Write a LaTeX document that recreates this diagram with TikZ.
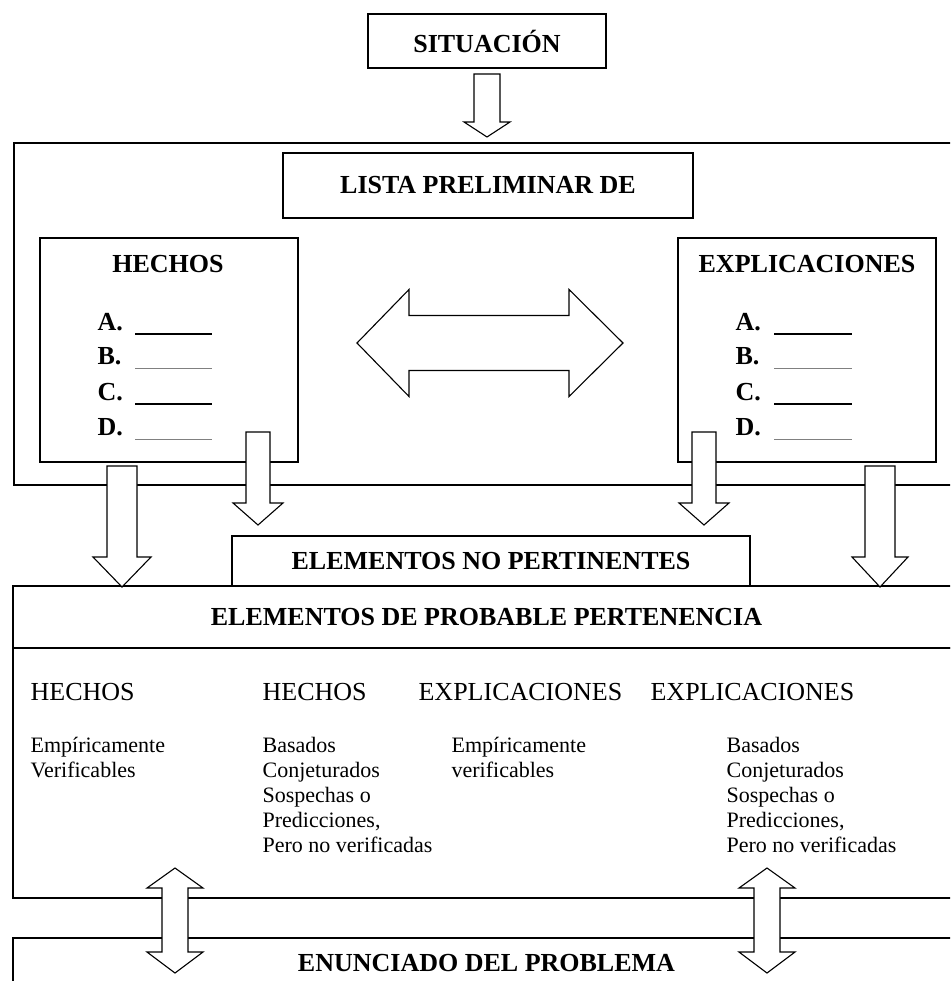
\documentclass[tikz,border=0pt]{standalone}
\usepackage{fontspec}
\setmainfont{Liberation Serif}
\usetikzlibrary{positioning}

\begin{document}
\begin{tikzpicture}[x=1pt,y=-1pt,line width=1.2pt,
 box/.style={draw,fill=white,inner sep=0pt,font=\fontsize{26}{30}\selectfont\bfseries},
 ttl/.style={inner sep=0pt,font=\fontsize{26}{30}\selectfont\bfseries},
 itm/.style={anchor=base west,inner sep=0pt,font=\fontsize{26}{30}\selectfont\bfseries},
 colhead/.style={anchor=base west,inner sep=0pt,font=\fontsize{26}{30}\selectfont},
 coltext/.style={anchor=base west,inner sep=0pt,font=\fontsize{22}{25}\selectfont},
 blk/.style={draw,fill=white,line width=1.1pt}]
\useasboundingbox (0,0) rectangle (950,981);
\clip (0,0) rectangle (950,981);
% boxes
\node[box,minimum width=946pt,minimum height=342pt] (frame) at (487,314) {};
\node[box,minimum width=238pt,minimum height=54pt] (sit) at (487,41) {SITUACIÓN};
\node[box,minimum width=410pt,minimum height=65pt] (lista) at (488,185.5) {LISTA PRELIMINAR DE};
\node[box,minimum width=258pt,minimum height=224pt] (hechos) at (169,350) {};
\node[box,minimum width=258pt,minimum height=224pt] (expl) at (807,350) {};
\node[ttl] (hechost) at (168,264) {HECHOS};
\node[ttl] (explt) at (807,264) {EXPLICACIONES};
\foreach \l/\y in {A/330,B/364,C/400,D/435} {
  \node[itm] (h\l) at (97,\y) {\l.};
  \node[itm] (e\l) at (735,\y) {\l.};
}
\foreach \y/\c/\w in {334/black/1.6pt,368/gray/1pt,404/black/1.6pt,439/gray/1pt} {
  \draw[\c,line width=\w] (135,\y) -- (212,\y);
  \draw[\c,line width=\w] (774,\y) -- (852,\y);
}
\node[box,minimum width=518pt,minimum height=50pt] (nopert) at (491,561) {ELEMENTOS NO PERTINENTES};
\node[box,minimum width=947pt,minimum height=250pt] (probb) at (486.5,773) {};
\node[box,minimum width=947pt,minimum height=62pt] (probh) at (486.5,617) {ELEMENTOS DE PROBABLE PERTENENCIA};
\node[box,minimum width=947pt,minimum height=50pt] (enun) at (486.5,963) {ENUNCIADO DEL PROBLEMA};
% columns
\node[colhead] (c1) at (30,700) {HECHOS};
\node[colhead] (c2) at (262,700) {HECHOS};
\node[colhead] (c3) at (418,700) {EXPLICACIONES};
\node[colhead] (c4) at (650,700) {EXPLICACIONES};
\node[coltext] (t1) at (30,752) {\begin{tabular}[t]{@{}l@{}}Empíricamente\\Verificables\end{tabular}};
\node[coltext] (t2) at (262,752) {\begin{tabular}[t]{@{}l@{}}Basados\\Conjeturados\\Sospechas o\\Predicciones,\\Pero no verificadas\end{tabular}};
\node[coltext] (t3) at (451,752) {\begin{tabular}[t]{@{}l@{}}Empíricamente\\verificables\end{tabular}};
\node[coltext] (t4) at (726,752) {\begin{tabular}[t]{@{}l@{}}Basados\\Conjeturados\\Sospechas o\\Predicciones,\\Pero no verificadas\end{tabular}};
% block arrows
\foreach \x/\t/\b/\p/\s/\h in {487/74/122/137/13/23,122/466/557/587/15/29,258/432/503/525/12/25,704/432/503/525/12/25,880/466/557/587/15/28}
  \draw[blk] (\x-\s,\t) -- (\x+\s,\t) -- (\x+\s,\b) -- (\x+\h,\b) -- (\x,\p) -- (\x-\h,\b) -- (\x-\s,\b) -- cycle;
\draw[blk] (357,343) -- (409,289.5) -- (409,315.5) -- (569,315.5) -- (569,289.5) -- (623,343)
  -- (569,396.5) -- (569,370.5) -- (409,370.5) -- (409,396.5) -- cycle;
\foreach \x in {175,767}
  \draw[blk] (\x,868) -- (\x+28,888) -- (\x+13,888) -- (\x+13,952) -- (\x+28,952) -- (\x,973)
    -- (\x-28,952) -- (\x-13,952) -- (\x-13,888) -- (\x-28,888) -- cycle;
\end{tikzpicture}
\end{document}
